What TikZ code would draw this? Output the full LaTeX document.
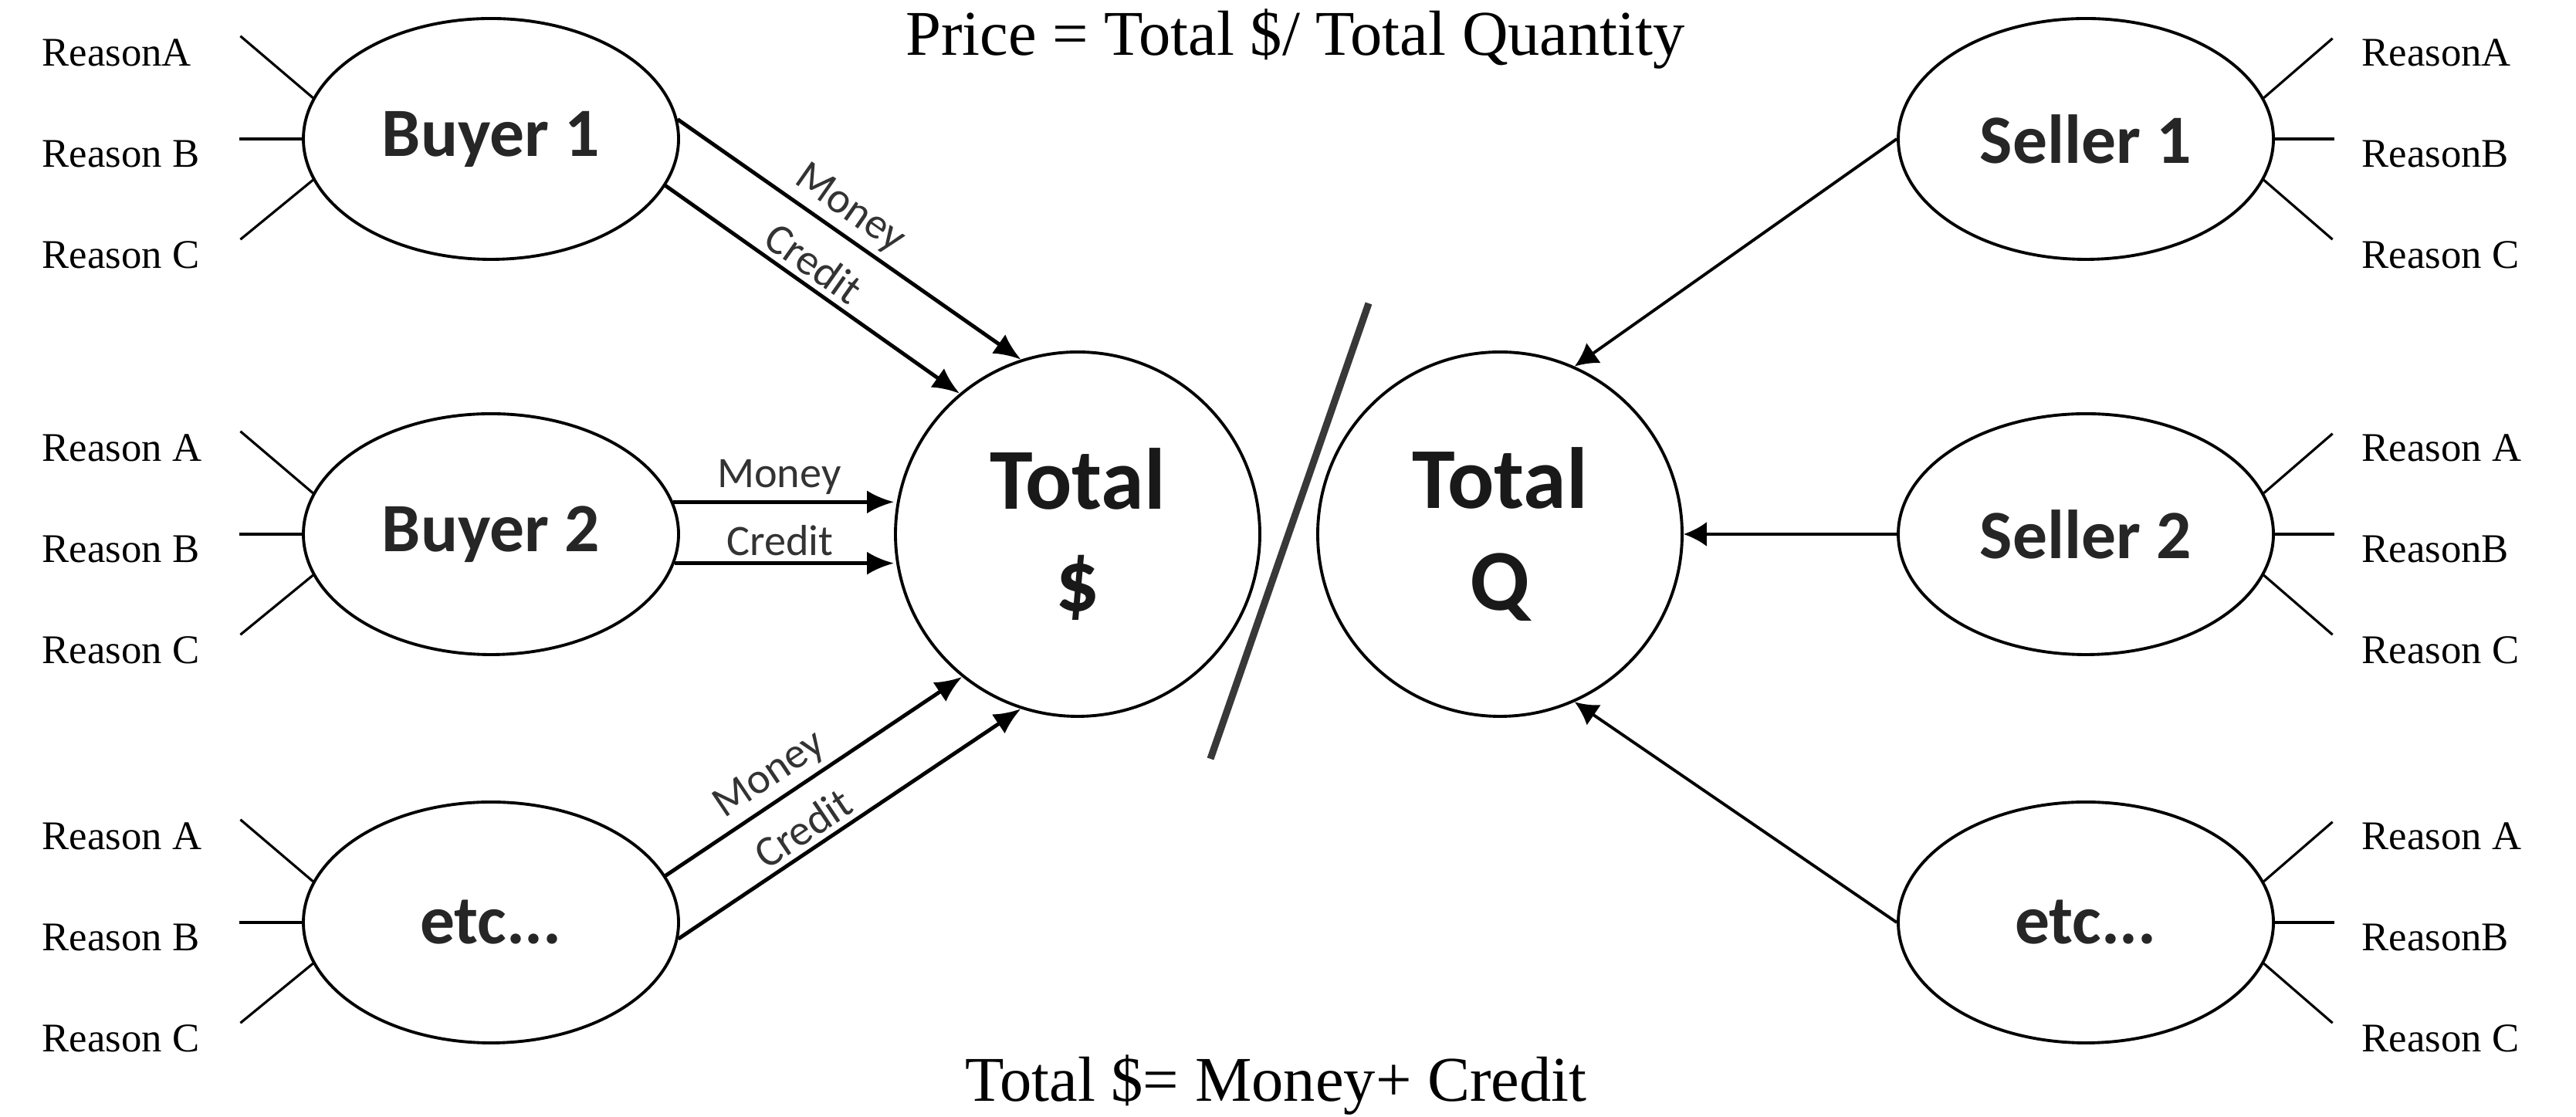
\documentclass[tikz,border=0pt]{standalone}
\usepackage{fontspec}
\setmainfont{Liberation Serif}
\newfontfamily\calibri{Carlito}
\usetikzlibrary{arrows.meta,shapes.geometric}

\begin{document}
\begin{tikzpicture}[
    party/.style={draw, ellipse, line width=1.1pt, minimum width=4.86cm, minimum height=3.12cm, inner sep=0pt, font=\calibri\bfseries\fontsize{25.5}{30}\selectfont, text=black!85},
    total/.style={draw, circle, line width=1.1pt, minimum size=4.72cm, inner sep=0pt, align=center, font=\calibri\bfseries\fontsize{32}{37.5}\selectfont, text=black!90},
    reason/.style={anchor=west, inner sep=0pt, font=\fontsize{15}{18}\selectfont},
    spoke/.style={line width=0.9pt},
    flow/.style={-{Latex[length=3.5mm,width=3mm]}, line width=1.4pt},
    supply/.style={-{Latex[length=3mm,width=3.2mm]}, line width=1.1pt},
    flowlabel/.style={font=\calibri\fontsize{16}{19}\selectfont, text=black!80, inner sep=2pt},
    formula/.style={anchor=base, font=\fontsize{23.5}{28}\selectfont}
]
    \useasboundingbox (0,0) rectangle (33.37,14.47);

    % Totals
    \node[total] (totd) at (13.96,7.55) {Total\\\$};
    \node[total] (totq) at (19.43,7.55) {Total\\Q};
    \coordinate (slashtop) at (17.73,10.54);
    \coordinate (slashbot) at (15.68,4.64);
    \draw[line width=2.6pt, black!78] (slashtop) -- (slashbot);

    % Formulas
    \node[formula] (price) at (16.78,13.75) {Price = Total \$/ Total Quantity};
    \node[formula] (sum) at (16.53,0.20) {Total \$= Money+ Credit};

    % Buyers
    \node[party] (b1) at (6.36,12.67) {Buyer 1};
    \node[party] (b2) at (6.36,7.55) {Buyer 2};
    \node[party] (b3) at (6.36,2.52) {etc...};

    % Sellers
    \node[party] (s1) at (27.02,12.67) {Seller 1};
    \node[party] (s2) at (27.02,7.55) {Seller 2};
    \node[party] (s3) at (27.02,2.52) {etc...};

    % Buyer reasons
    \node[reason] (b1a) at (0.54,13.79) {ReasonA};
    \node[reason] (b1b) at (0.54,12.47) {Reason B};
    \node[reason] (b1c) at (0.54,11.17) {Reason C};
    \node[reason] (b2a) at (0.54,8.67) {Reason A};
    \node[reason] (b2b) at (0.54,7.35) {Reason B};
    \node[reason] (b2c) at (0.54,6.05) {Reason C};
    \node[reason] (b3a) at (0.54,3.64) {Reason A};
    \node[reason] (b3b) at (0.54,2.32) {Reason B};
    \node[reason] (b3c) at (0.54,1.02) {Reason C};
    \draw[spoke] (b1.167) -- ++(-0.94,0.8);
    \draw[spoke] (b1.west) -- ++(-0.81,0);
    \draw[spoke] (b1.193) -- ++(-0.94,-0.77);
    \draw[spoke] (b2.167) -- ++(-0.94,0.8);
    \draw[spoke] (b2.west) -- ++(-0.81,0);
    \draw[spoke] (b2.193) -- ++(-0.94,-0.77);
    \draw[spoke] (b3.167) -- ++(-0.94,0.8);
    \draw[spoke] (b3.west) -- ++(-0.81,0);
    \draw[spoke] (b3.193) -- ++(-0.94,-0.77);

    % Seller reasons
    \node[reason] (s1a) at (30.59,13.79) {ReasonA};
    \node[reason] (s1b) at (30.59,12.47) {ReasonB};
    \node[reason] (s1c) at (30.59,11.17) {Reason C};
    \node[reason] (s2a) at (30.59,8.67) {Reason A};
    \node[reason] (s2b) at (30.59,7.35) {ReasonB};
    \node[reason] (s2c) at (30.59,6.05) {Reason C};
    \node[reason] (s3a) at (30.59,3.64) {Reason A};
    \node[reason] (s3b) at (30.59,2.32) {ReasonB};
    \node[reason] (s3c) at (30.59,1.02) {Reason C};
    \draw[spoke] (s1.13) -- ++(0.89,0.77);
    \draw[spoke] (s1.east) -- ++(0.77,0);
    \draw[spoke] (s1.-13) -- ++(0.89,-0.77);
    \draw[spoke] (s2.13) -- ++(0.89,0.77);
    \draw[spoke] (s2.east) -- ++(0.77,0);
    \draw[spoke] (s2.-13) -- ++(0.89,-0.77);
    \draw[spoke] (s3.13) -- ++(0.89,0.77);
    \draw[spoke] (s3.east) -- ++(0.77,0);
    \draw[spoke] (s3.-13) -- ++(0.89,-0.77);

    % Money and credit into Total $
    \draw[flow] (b1.6) -- node[flowlabel, above, sloped, pos=0.46] (m1) {Money} (totd.108);
    \draw[flow] (b1.-15) -- node[flowlabel, above, sloped, pos=0.46] (c1) {Credit} (totd.130);
    \draw[flow] (b2.10) -- node[flowlabel, above, pos=0.48] (m2) {Money} (b2.10 -| totd.west);
    \draw[flow] (b2.-9) -- node[flowlabel, above, pos=0.48] (c2) {Credit} (b2.-9 -| totd.west);
    \draw[flow] (b3.15) -- node[flowlabel, above, sloped, pos=0.4] (m3) {Money} (totd.-129);
    \draw[flow] (b3.-5) -- node[flowlabel, above, sloped, pos=0.4] (c3) {Credit} (totd.-108);

    % Quantity into Total Q
    \draw[supply] (s1.west) -- (totq.66);
    \draw[supply] (s2.west) -- (totq.east);
    \draw[supply] (s3.west) -- (totq.-66);
\end{tikzpicture}
\end{document}
